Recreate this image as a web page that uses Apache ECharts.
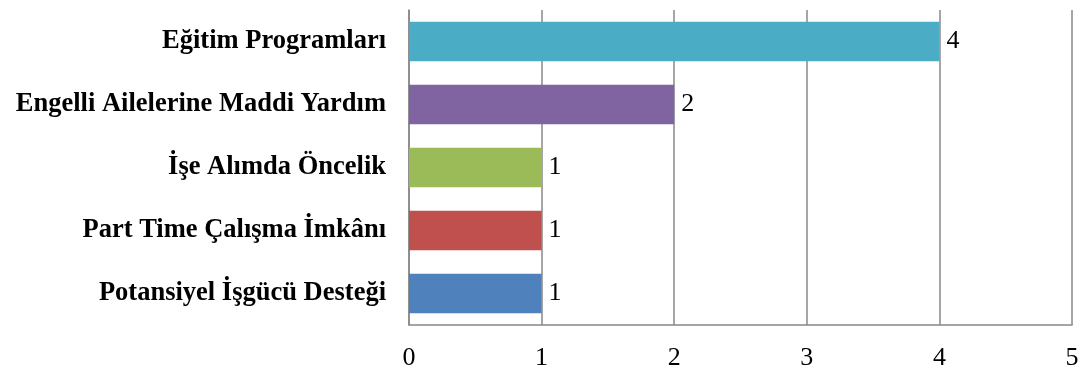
<!DOCTYPE html>
<html>
<head>
<meta charset="utf-8">
<script src="https://cdn.jsdelivr.net/npm/echarts@6/dist/echarts.min.js"></script>
<style>
  html, body { margin: 0; padding: 0; background: #fff; }
  #main { width: 1083px; height: 371px; }
</style>
</head>
<body>
<div id="main"></div>
<script>
// categories bottom to top, as ECharts draws a category y axis
var categories = ['Potansiyel İşgücü Desteği', 'Part Time Çalışma İmkânı', 'İşe Alımda Öncelik',
  'Engelli Ailelerine Maddi Yardım', 'Eğitim Programları'];
var values = [1, 1, 1, 2, 4];
var barColors = ['#4F81BD', '#C0504D', '#9BBB59', '#8064A2', '#4BACC6'];
var xTicks = [0, 1, 2, 3, 4, 5];

var chart = echarts.init(document.getElementById('main'));
var serif = '"Liberation Serif", "Times New Roman", serif';

var option = {
  animation: false,
  grid: { left: 409, right: 11, top: 10, bottom: 44 },
  xAxis: {
    type: 'value',
    min: xTicks[0],
    max: xTicks[xTicks.length - 1],
    interval: 1,
    axisLine: { show: true, lineStyle: { color: '#888', width: 1.5 } },
    axisTick: { show: false },
    splitLine: { show: true, lineStyle: { color: '#888', width: 1.5 } },
    axisLabel: { color: '#000', fontFamily: serif, fontSize: 26, margin: 20 }
  },
  yAxis: {
    type: 'category',
    data: categories,
    axisLine: { show: true, lineStyle: { color: '#888', width: 1.5 } },
    axisTick: { show: false },
    axisLabel: { color: '#000', fontFamily: serif, fontSize: 26.5, fontWeight: 'bold', margin: 23, padding: [5, 0, 0, 0] }
  },
  series: [{
    type: 'bar',
    data: values.map(function (v, i) {
      return { value: v, itemStyle: { color: barColors[i] } };
    }),
    barCategoryGap: '37%',
    label: {
      show: true,
      position: 'right',
      distance: 7,
      padding: [5, 0, 0, 0],
      color: '#000',
      fontFamily: serif,
      fontSize: 26
    }
  }]
};

chart.setOption(option);
</script>
</body>
</html>
